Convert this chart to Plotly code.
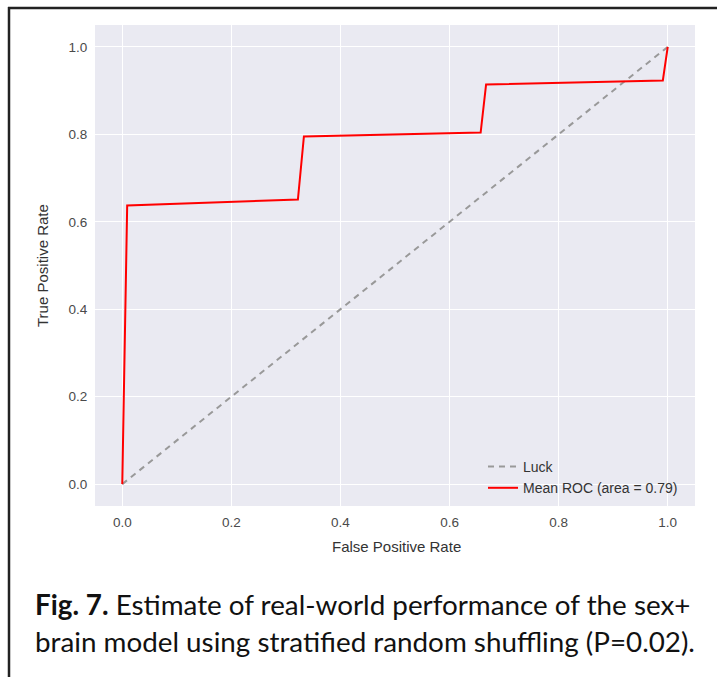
import plotly.graph_objects as go

# Data
luck_x = [0.0, 1.0]
luck_y = [0.0, 1.0]
roc_fpr = [0.0, 0.009, 0.322, 0.333, 0.657, 0.667, 0.991, 1.0]
roc_tpr = [0.0, 0.637, 0.651, 0.795, 0.804, 0.914, 0.923, 1.0]
tick_vals = [0.0, 0.2, 0.4, 0.6, 0.8, 1.0]
tick_text = ["0.0", "0.2", "0.4", "0.6", "0.8", "1.0"]

W, H = 717, 677
PL, PR, PT, PB = 95, 695, 25, 506   # plot area in pixels


def px2x(px):  # pixel -> paper x (paper spans whole figure)
    return px / W


def py2y(py):  # pixel -> paper y
    return (H - py) / H


fig = go.Figure()
fig.add_trace(go.Scatter(x=luck_x, y=luck_y, mode="lines", name="Luck",
                         line=dict(color="#999999", width=2, dash="6px,5px")))
fig.add_trace(go.Scatter(x=roc_fpr, y=roc_tpr, mode="lines",
                         name="Mean ROC (area = 0.79)",
                         line=dict(color="#ff0000", width=2)))

tickfont = dict(family="Liberation Sans, Arial, sans-serif", size=13.5, color="#4a4a4a")
axis_common = dict(range=[-0.05, 1.05], tickvals=tick_vals, ticktext=tick_text,
                   showgrid=True, gridcolor="white", gridwidth=1, zeroline=False,
                   showline=False, ticks="outside", ticklen=4,
                   tickcolor="rgba(0,0,0,0)", tickfont=tickfont)

fig.update_layout(
    width=W, height=H,
    margin=dict(l=0, r=0, t=0, b=0, pad=0, autoexpand=False),
    paper_bgcolor="rgba(255,255,255,0)", plot_bgcolor="#EAEAF2",
    xaxis=dict(axis_common, domain=[px2x(PL), px2x(PR)]),
    yaxis=dict(axis_common, domain=[py2y(PB), py2y(PT)]),
    showlegend=True,
    legend=dict(x=px2x(483), y=py2y(451), xanchor="left", yanchor="top",
                bgcolor="rgba(0,0,0,0)", borderwidth=0, tracegroupgap=0,
                font=dict(family="Liberation Sans, Arial, sans-serif", size=14,
                          color="#333333")),
)

labfont = dict(family="Liberation Sans, Arial, sans-serif", size=15, color="#333333")
fig.add_annotation(text="False Positive Rate", xref="paper", yref="paper",
                   x=px2x(396), y=py2y(546), showarrow=False, font=labfont,
                   xanchor="center", yanchor="middle")
fig.add_annotation(text="True Positive Rate", xref="paper", yref="paper",
                   x=px2x(43), y=py2y(266), showarrow=False, font=labfont,
                   textangle=-90, xanchor="center", yanchor="middle")

capfont = dict(family="Lato, Noto Sans, sans-serif", size=27.8, color="#111111")
fig.add_annotation(text="<b>Fig. 7.</b> Estimate of real-world performance of the sex+",
                   xref="paper", yref="paper", x=px2x(33), y=py2y(604),
                   showarrow=False, font=capfont, xanchor="left", yanchor="middle")
fig.add_annotation(text="brain model using stratified random shuffling (P=0.02).",
                   xref="paper", yref="paper", x=px2x(33), y=py2y(641),
                   showarrow=False, font=capfont, xanchor="left", yanchor="middle")

# outer frame (top and left edges; right and bottom lie outside the picture)
frame_line = dict(color="#222222", width=2.5)
fig.add_shape(type="line", xref="paper", yref="paper",
              x0=px2x(8), x1=1, y0=py2y(8), y1=py2y(8),
              line=frame_line, layer="above")
fig.add_shape(type="line", xref="paper", yref="paper",
              x0=px2x(9), x1=px2x(9), y0=py2y(7), y1=0,
              line=frame_line, layer="above")

fig.write_html("out.html", config={"displayModeBar": False},
               post_script="document.body.style.margin='0px';document.body.style.overflow='hidden';document.body.style.background='white';")
